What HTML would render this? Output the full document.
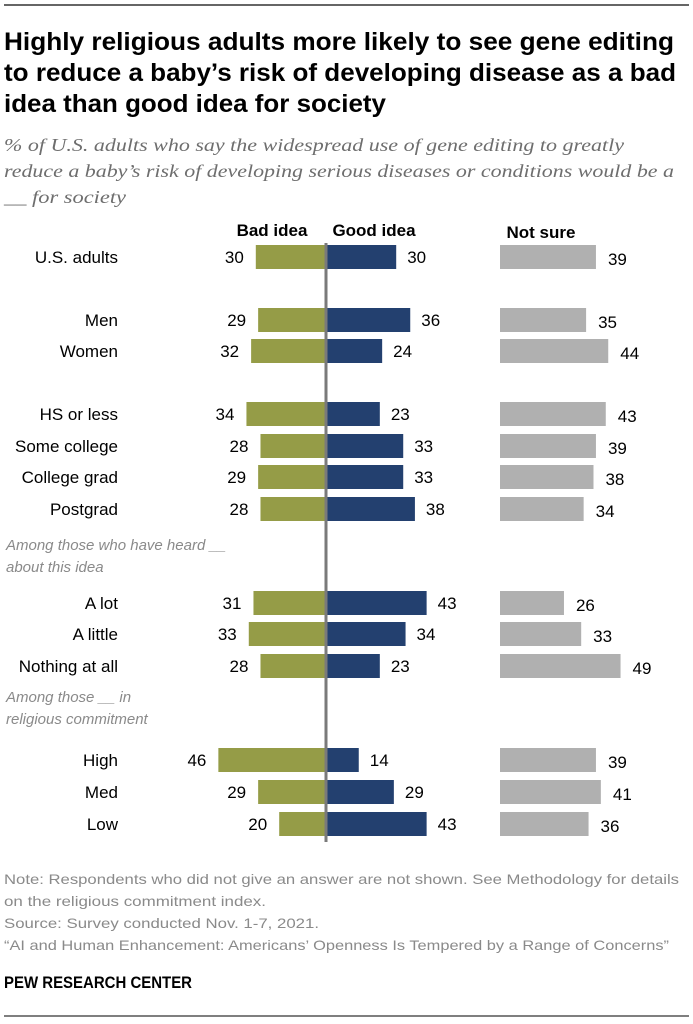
<!DOCTYPE html>
<html><head><meta charset="utf-8"><style>
body{margin:0;background:#fff}
svg{display:block}
.t{font-family:"Liberation Sans Narrow","Liberation Sans",sans-serif;font-weight:bold;font-size:25px;fill:#000}
.s{font-family:"Liberation Serif",serif;font-style:italic;font-size:18px;fill:#6e6e6e}
.l{font-family:"Liberation Sans Narrow","Liberation Sans",sans-serif;font-size:17px;fill:#000}
.h{font-family:"Liberation Sans Narrow","Liberation Sans",sans-serif;font-weight:bold;font-size:17px;fill:#000}
.g{font-family:"Liberation Sans Narrow","Liberation Sans",sans-serif;font-style:italic;font-size:15px;fill:#8a8a8a}
.n{font-family:"Liberation Sans Narrow","Liberation Sans",sans-serif;font-size:14px;fill:#8a8a8a}
</style></head><body>
<svg id="c" width="693" height="1024" xmlns="http://www.w3.org/2000/svg">
<line x1="4" y1="5" x2="689" y2="5" stroke="#333" stroke-width="1.5"/>
<g>
<text class="t" x="4" y="50" textLength="670" lengthAdjust="spacingAndGlyphs">Highly religious adults more likely to see gene editing</text>
<text class="t" x="4" y="81" textLength="672" lengthAdjust="spacingAndGlyphs">to reduce a baby’s risk of developing disease as a bad</text>
<text class="t" x="4" y="112" textLength="382" lengthAdjust="spacingAndGlyphs">idea than good idea for society</text>
</g>
<g>
<text class="s" x="4" y="151" textLength="620" lengthAdjust="spacingAndGlyphs">% of U.S. adults who say the widespread use of gene editing to greatly</text>
<text class="s" x="4" y="177" textLength="670" lengthAdjust="spacingAndGlyphs">reduce a baby’s risk of developing serious diseases or conditions would be a</text>
<text class="s" x="4" y="203" textLength="122" lengthAdjust="spacingAndGlyphs">__ for society</text>
</g>
<text class="h" x="272" y="236" text-anchor="middle">Bad idea</text>
<text class="h" x="374" y="236" text-anchor="middle">Good idea</text>
<text class="h" x="541" y="238" text-anchor="middle">Not sure</text>
<text class="g" x="6" y="550">Among those who have heard __</text>
<text class="g" x="6" y="572">about this idea</text>
<text class="g" x="6" y="702">Among those __ in</text>
<text class="g" x="6" y="724">religious commitment</text>
<g id="bars"></g>
<line x1="326" y1="243" x2="326" y2="842" stroke="#7a7a7a" stroke-width="3"/>
<g>
<text class="n" x="4" y="884" textLength="675" lengthAdjust="spacingAndGlyphs">Note: Respondents who did not give an answer are not shown. See Methodology for details</text>
<text class="n" x="4" y="906" textLength="262" lengthAdjust="spacingAndGlyphs">on the religious commitment index.</text>
<text class="n" x="4" y="928" textLength="315" lengthAdjust="spacingAndGlyphs">Source: Survey conducted Nov. 1-7, 2021.</text>
<text class="n" x="4" y="950" textLength="665" lengthAdjust="spacingAndGlyphs">“AI and Human Enhancement: Americans’ Openness Is Tempered by a Range of Concerns”</text>
</g>
<text class="h" x="4" y="988" font-size="15" textLength="188" lengthAdjust="spacingAndGlyphs">PEW RESEARCH CENTER</text>
<line x1="4" y1="1016" x2="689" y2="1016" stroke="#555" stroke-width="1.5"/>
</svg>
<script>
const categories=["U.S. adults","Men","Women","HS or less","Some college","College grad","Postgrad","A lot","A little","Nothing at all","High","Med","Low"];
const badIdea=[30,29,32,34,28,29,28,31,33,28,46,29,20];
const goodIdea=[30,36,24,23,33,33,38,43,34,23,14,29,43];
const notSure=[39,35,44,43,39,38,34,26,33,49,39,41,36];
const rowY=[257,320,351,414,446,477,509,603,634,666,760,792,824];
const NS="http://www.w3.org/2000/svg";
const g=document.getElementById('bars');
const cx=326, k=2.34, nx=500, nk=2.46, bh=24;
function el(tag,a,txt){const e=document.createElementNS(NS,tag);for(const key in a)e.setAttribute(key,a[key]);if(txt!==undefined)e.textContent=txt;g.appendChild(e);return e;}
categories.forEach((c,i)=>{
 const y=rowY[i];
 let e=el('text',{class:'l',x:118,y:y+6,'text-anchor':'end'},c);
 
 
 const bw=badIdea[i]*k;
 e=el('rect',{x:cx-bw,y:y-bh/2,width:bw,height:bh,fill:'#959c47'});
 
 
 e=el('text',{class:'l',x:cx-bw-12,y:y+6,'text-anchor':'end'},badIdea[i]);
 
 
 const gw=goodIdea[i]*k;
 e=el('rect',{x:cx,y:y-bh/2,width:gw,height:bh,fill:'#23406f'});
 
 
 e=el('text',{class:'l',x:cx+gw+11,y:y+6},goodIdea[i]);
 
 
 const nw=notSure[i]*nk;
 e=el('rect',{x:nx,y:y-bh/2,width:nw,height:bh,fill:'#b0b0b0'});
 
 
 e=el('text',{class:'l',x:nx+nw+12,y:y+8},notSure[i]);
 
 
});
</script>
</body></html>
